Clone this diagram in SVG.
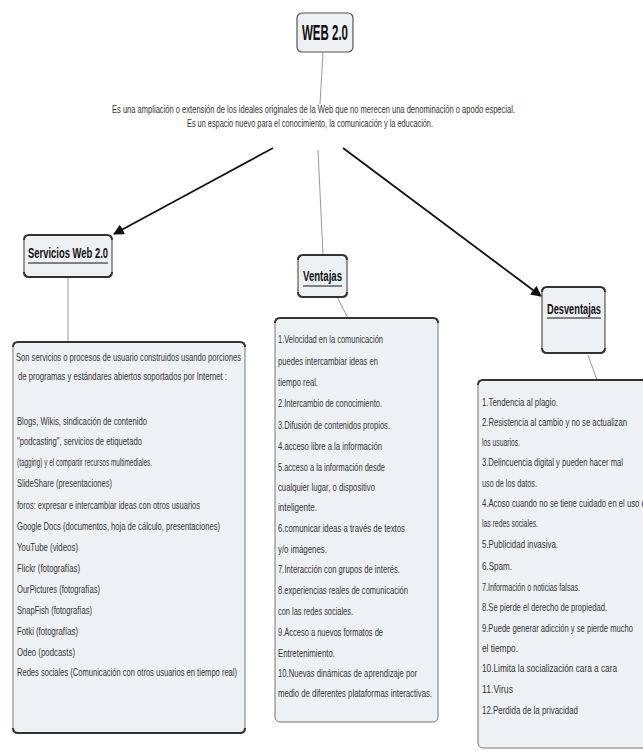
<svg xmlns="http://www.w3.org/2000/svg" width="643" height="751" viewBox="0 0 643 751">
<style>
.box{fill:#edf1f4;stroke:#555;stroke-width:1.2}
.big{fill:#edf1f4;stroke:#777;stroke-width:1}
.edge{fill:none;stroke:#333;stroke-width:2}
.title{font-family:"Liberation Sans",Arial,sans-serif;font-weight:bold;fill:#111}
.t{font-family:"Liberation Sans",Arial,sans-serif;font-size:11.5px;fill:#333}
.d{font-family:"Liberation Sans",Arial,sans-serif;font-size:10px;fill:#333}
.link{stroke:#999;stroke-width:1;fill:none}
.arrow{stroke:#111;stroke-width:1.8;fill:none;marker-end:url(#ah)}
</style>
<defs>
<marker id="ah" viewBox="0 0 10 10" refX="9" refY="5" markerWidth="6" markerHeight="6" orient="auto" markerUnits="strokeWidth">
<path d="M0,0 L10,5 L0,10 z" fill="#111"/>
</marker>
</defs>
<rect width="643" height="751" fill="#fff"/>
<g id="connectors">
<line class="link" x1="323" y1="52" x2="320" y2="104"/>
<line class="link" x1="318" y1="150" x2="323" y2="255"/>
<line class="link" x1="68" y1="277" x2="68" y2="342"/>
<line class="link" x1="337" y1="297" x2="348" y2="318"/>
<line class="link" x1="588" y1="355" x2="597" y2="380"/>
<line class="arrow" x1="273" y1="148" x2="114" y2="234"/>
<line class="arrow" x1="343" y1="148" x2="541" y2="296"/>
</g>
<g id="web20">
<rect class="box" x="297" y="13" width="56" height="39" rx="5" stroke-width="2" stroke="#333"/>
<text class="title" x="302" y="40" font-size="22" textLength="46" lengthAdjust="spacingAndGlyphs">WEB 2.0</text>
</g>
<g id="descripcion">
<text class="d" x="112" y="113" textLength="403" lengthAdjust="spacingAndGlyphs">Es una ampliación o extensión de los ideales originales de la Web que no merecen una denominación o apodo especial.</text>
<text class="d" x="187" y="126.5" textLength="246" lengthAdjust="spacingAndGlyphs">Es un espacio nuevo para el conocimiento, la comunicación y la educación.</text>
</g>
<g id="servicios">
<rect class="box" x="24" y="235" width="88" height="42" rx="5"/>
<path class="edge" d="M24,240 Q24,235 29,235 L107,235 Q112,235 112,240"/>
<path class="edge" d="M24,272 Q24,277 29,277 L107,277 Q112,277 112,272"/>
<text class="title" x="28" y="258" font-size="14" textLength="80" lengthAdjust="spacingAndGlyphs">Servicios Web 2.0</text>
<line x1="28" y1="263" x2="108" y2="263" stroke="#111" stroke-width="1"/>
</g>
<g id="ventajas">
<rect class="box" x="298" y="255" width="49" height="42" rx="5"/>
<path class="edge" d="M298,260 Q298,255 303,255 L342,255 Q347,255 347,260"/>
<path class="edge" d="M298,292 Q298,297 303,297 L342,297 Q347,297 347,292"/>
<text class="title" x="303" y="281" font-size="14" textLength="39" lengthAdjust="spacingAndGlyphs">Ventajas</text>
<line x1="303" y1="286" x2="342" y2="286" stroke="#111" stroke-width="1"/>
</g>
<g id="desventajas">
<rect class="box" x="542" y="287" width="63" height="66" rx="5"/>
<path class="edge" d="M542,292 Q542,287 547,287 L600,287 Q605,287 605,292"/>
<path class="edge" d="M542,348 Q542,353 547,353 L600,353 Q605,353 605,348"/>
<text class="title" x="547" y="314" font-size="14" textLength="54" lengthAdjust="spacingAndGlyphs">Desventajas</text>
<line x1="547" y1="318" x2="601" y2="318" stroke="#111" stroke-width="1"/>
</g>
<g id="servicios-detalle">
<rect class="big" x="13" y="342" width="232" height="391" rx="5"/>
<path class="edge" d="M13,347 Q13,342 18,342 L240,342 Q245,342 245,347"/>
<path class="edge" d="M13,728 Q13,733 18,733 L240,733 Q245,733 245,728"/>
<text class="t" x="16" y="361" textLength="225" lengthAdjust="spacingAndGlyphs">Son servicios o procesos de usuario construidos usando porciones</text>
<text class="t" x="18" y="380" textLength="209" lengthAdjust="spacingAndGlyphs">de programas y estándares abiertos soportados por Internet :</text>
<text class="t" x="17" y="425" textLength="130" lengthAdjust="spacingAndGlyphs">Blogs, Wikis, sindicación de contenido</text>
<text class="t" x="17" y="445" textLength="125" lengthAdjust="spacingAndGlyphs">"podcasting", servicios de etiquetado</text>
<text class="t" x="17" y="466" textLength="135" lengthAdjust="spacingAndGlyphs">(tagging) y el compartir recursos multimediales.</text>
<text class="t" x="17" y="487" textLength="95" lengthAdjust="spacingAndGlyphs">SlideShare (presentaciones)</text>
<text class="t" x="17" y="509" textLength="183" lengthAdjust="spacingAndGlyphs">foros: expresar e intercambiar ideas con otros usuarios</text>
<text class="t" x="17" y="530" textLength="203" lengthAdjust="spacingAndGlyphs">Google Docs (documentos, hoja de cálculo, presentaciones)</text>
<text class="t" x="17" y="551" textLength="61" lengthAdjust="spacingAndGlyphs">YouTube (videos)</text>
<text class="t" x="17" y="572" textLength="63" lengthAdjust="spacingAndGlyphs">Flickr (fotografías)</text>
<text class="t" x="17" y="593" textLength="83" lengthAdjust="spacingAndGlyphs">OurPictures (fotografías)</text>
<text class="t" x="17" y="614" textLength="75" lengthAdjust="spacingAndGlyphs">SnapFish (fotografías)</text>
<text class="t" x="17" y="635" textLength="61" lengthAdjust="spacingAndGlyphs">Fotki (fotografías)</text>
<text class="t" x="17" y="656" textLength="58" lengthAdjust="spacingAndGlyphs">Odeo (podcasts)</text>
<text class="t" x="17" y="676" textLength="220" lengthAdjust="spacingAndGlyphs">Redes sociales (Comunicación con otros usuarios en tiempo real)</text>
</g>
<g id="ventajas-detalle">
<rect class="big" x="275" y="318" width="163" height="404" rx="5"/>
<path class="edge" d="M275,323 Q275,318 280,318 L433,318 Q438,318 438,323"/>
<text class="t" x="278" y="343" textLength="105" lengthAdjust="spacingAndGlyphs">1.Velocidad en la comunicación</text>
<text class="t" x="278" y="365" textLength="100" lengthAdjust="spacingAndGlyphs">puedes intercambiar ideas en</text>
<text class="t" x="278" y="386" textLength="40" lengthAdjust="spacingAndGlyphs">tiempo real.</text>
<text class="t" x="278" y="407" textLength="104" lengthAdjust="spacingAndGlyphs">2.Intercambio de conocimiento.</text>
<text class="t" x="278" y="429" textLength="112" lengthAdjust="spacingAndGlyphs">3.Difusión de contenidos propios.</text>
<text class="t" x="278" y="450" textLength="104" lengthAdjust="spacingAndGlyphs">4.acceso libre a la información</text>
<text class="t" x="278" y="471" textLength="107" lengthAdjust="spacingAndGlyphs">5.acceso a la información desde</text>
<text class="t" x="278" y="491" textLength="97" lengthAdjust="spacingAndGlyphs">cualquier lugar, o dispositivo</text>
<text class="t" x="278" y="511" textLength="39" lengthAdjust="spacingAndGlyphs">inteligente.</text>
<text class="t" x="278" y="532" textLength="127" lengthAdjust="spacingAndGlyphs">6.comunicar ideas a través  de textos</text>
<text class="t" x="278" y="553" textLength="49" lengthAdjust="spacingAndGlyphs">y/o imágenes.</text>
<text class="t" x="278" y="573" textLength="122" lengthAdjust="spacingAndGlyphs">7.Interacción con grupos de interés.</text>
<text class="t" x="278" y="594" textLength="130" lengthAdjust="spacingAndGlyphs">8.experiencias reales de comunicación</text>
<text class="t" x="278" y="615" textLength="75" lengthAdjust="spacingAndGlyphs">con las redes sociales.</text>
<text class="t" x="278" y="636" textLength="105" lengthAdjust="spacingAndGlyphs">9.Acceso a nuevos formatos de</text>
<text class="t" x="278" y="657" textLength="57" lengthAdjust="spacingAndGlyphs">Entretenimiento.</text>
<text class="t" x="278" y="677" textLength="139" lengthAdjust="spacingAndGlyphs">10.Nuevas dinámicas de aprendizaje por</text>
<text class="t" x="278" y="697" textLength="154" lengthAdjust="spacingAndGlyphs">medio de diferentes plataformas interactivas.</text>
</g>
<g id="desventajas-detalle">
<rect class="big" x="478" y="380" width="185" height="368" rx="5"/>
<path class="edge" d="M478,385 Q478,380 483,380 L663,380"/>
<text class="t" x="482" y="406" textLength="76" lengthAdjust="spacingAndGlyphs">1.Tendencia al plagio.</text>
<text class="t" x="482" y="426" textLength="145" lengthAdjust="spacingAndGlyphs">2.Resistencia al cambio y no se actualizan</text>
<text class="t" x="482" y="446" textLength="38" lengthAdjust="spacingAndGlyphs">los usuarios.</text>
<text class="t" x="482" y="466" textLength="141" lengthAdjust="spacingAndGlyphs">3.Delincuencia digital y pueden hacer mal</text>
<text class="t" x="482" y="487" textLength="55" lengthAdjust="spacingAndGlyphs">uso de los datos.</text>
<text class="t" x="482" y="507" textLength="168" lengthAdjust="spacingAndGlyphs">4.Acoso cuando no se tiene cuidado en el uso de</text>
<text class="t" x="482" y="527" textLength="56" lengthAdjust="spacingAndGlyphs">las redes sociales.</text>
<text class="t" x="482" y="548" textLength="76" lengthAdjust="spacingAndGlyphs">5.Publicidad invasiva.</text>
<text class="t" x="482" y="570" textLength="30" lengthAdjust="spacingAndGlyphs">6.Spam.</text>
<text class="t" x="482" y="591" textLength="98" lengthAdjust="spacingAndGlyphs">7.Información o noticias falsas.</text>
<text class="t" x="482" y="611" textLength="125" lengthAdjust="spacingAndGlyphs">8.Se pierde el derecho de propiedad.</text>
<text class="t" x="482" y="632" textLength="151" lengthAdjust="spacingAndGlyphs">9.Puede generar adicción y se pierde mucho</text>
<text class="t" x="482" y="652" textLength="36" lengthAdjust="spacingAndGlyphs">el tiempo.</text>
<text class="t" x="482" y="672" textLength="135" lengthAdjust="spacingAndGlyphs">10.Limita la socialización cara a cara</text>
<text class="t" x="482" y="693" textLength="31" lengthAdjust="spacingAndGlyphs">11.Virus</text>
<text class="t" x="482" y="714" textLength="96" lengthAdjust="spacingAndGlyphs">12.Perdida de la privacidad</text>
</g>
</svg>
